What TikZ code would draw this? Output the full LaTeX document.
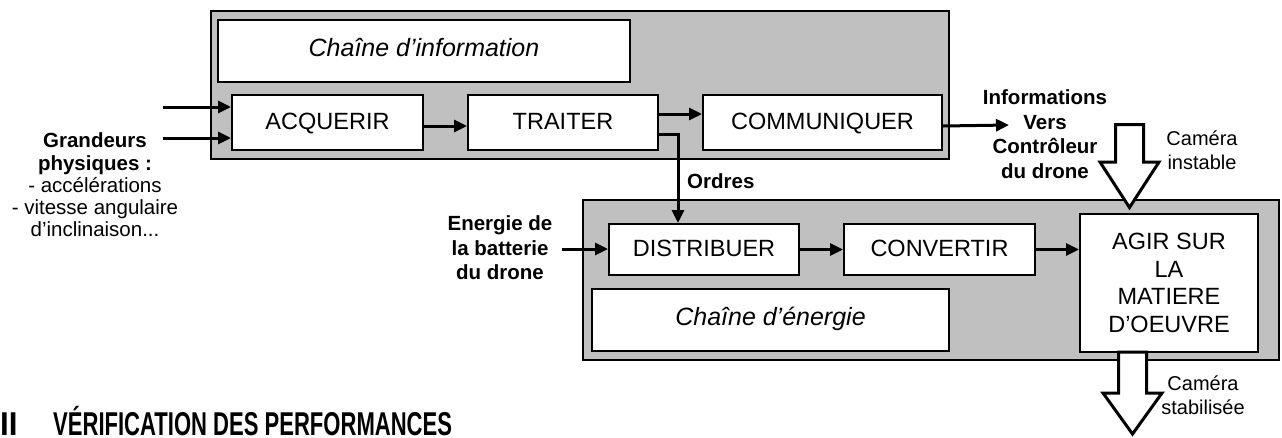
\documentclass[tikz,border=0pt]{standalone}
\usepackage{fontspec}
\setmainfont{Liberation Sans}
\usetikzlibrary{arrows.meta}
\definecolor{chaingray}{HTML}{C0C0C0}
\tikzset{
  chain/.style={draw=black, line width=2pt, fill=chaingray, anchor=north west, inner sep=0pt},
  fnbox/.style={draw=black, line width=2pt, fill=white, anchor=north west, inner sep=0pt,
    font=\fontsize{23.5}{27.7}\selectfont, align=center},
  onebox/.style={fnbox, text height=16pt, text depth=2pt},
  titlebox/.style={fnbox, font=\itshape\fontsize{25}{30}\selectfont, text height=17.9pt, text depth=6pt},
  flow/.style={line width=3pt, -{Triangle[length=13pt,width=12pt]}},
  lbl/.style={font=\bfseries\fontsize{20.5}{24.5}\selectfont, align=center, inner sep=0pt},
  note/.style={font=\fontsize{20}{24}\selectfont, align=center, inner sep=0pt},
  bigarrow/.style={draw=black, line width=3pt, fill=white, line join=miter},
  heading/.style={anchor=base west, inner sep=0pt, font=\bfseries\fontsize{33}{38}\selectfont}
}
\begin{document}
\begin{tikzpicture}[x=1pt, y=-1pt]
\useasboundingbox (0,0) rectangle (1282,437);
\clip (0,0) rectangle (1282,437);

% information chain
\node[chain, minimum width=738pt, minimum height=148pt] (info) at (210,10) {};
\node[titlebox, minimum width=412pt, minimum height=62pt] (infotitle) at (217,19) {Chaîne d’information};
\node[onebox, minimum width=191pt, minimum height=55pt] (acq) at (231,94) {ACQUERIR};
\node[onebox, minimum width=190pt, minimum height=55pt] (tra) at (467,94) {TRAITER};
\node[onebox, minimum width=239pt, minimum height=55pt] (com) at (702,94) {COMMUNIQUER};

% energy chain
\node[chain, minimum width=696pt, minimum height=160pt] (energy) at (582,199) {};
\node[onebox, minimum width=190pt, minimum height=51pt] (dis) at (608,223) {DISTRIBUER};
\node[onebox, minimum width=191pt, minimum height=51pt] (con) at (843,223) {CONVERTIR};
\node[titlebox, minimum width=357pt, minimum height=62pt] (entitle) at (591,288) {Chaîne d’énergie};
\node[fnbox, minimum width=178pt, minimum height=138pt] (agir) at (1079,213) {AGIR SUR\\LA\\MATIERE\\D’OEUVRE};

% labels
\node[inner sep=0pt, align=center, font=\fontsize{20.5}{22.2}\selectfont] (grand) at (95,185)
  {\textbf{Grandeurs}\\\textbf{physiques :}\\- accélérations\\- vitesse angulaire\\d’inclinaison...};
\node[lbl] (infos) at (1045,134) {Informations\\Vers\\Contrôleur\\du drone};
\node[lbl] (batt) at (500,248) {Energie de\\la batterie\\du drone};
\node[lbl, anchor=west] (ordres) at (687,181) {Ordres};
\node[note] (instable) at (1202,150) {Caméra\\instable};
\node[note] (stable) at (1203,395) {Caméra\\stabilisée};

% section heading
\node[heading] (secnum) at (0,435) {\scalebox{0.95}[1]{II}};
\node[heading] (sectitle) at (53,435) {\scalebox{0.668}[1]{VÉRIFICATION DES PERFORMANCES}};

% flows
\coordinate (in1) at (163,107);
\coordinate (in2) at (163,138);
\coordinate (out1) at (1009,125);
\coordinate (ein) at (562,249);
\draw[flow] (in1) -- (acq.west |- in1);
\draw[flow] (in2) -- (acq.west |- in2);
\draw[flow] ([yshift=-3.5pt]acq.east) -- ([yshift=-3.5pt]tra.west);
\draw[flow] ([yshift=8.5pt]tra.east) -- ([yshift=8.5pt]com.west);
\draw[flow] ([yshift=-11.5pt]tra.east) -| ([xshift=-26pt]dis.north);
\draw[flow] ([yshift=-3.5pt]com.east) -- (out1);
\draw[flow] (ein) -- (dis.west |- ein);
\draw[flow] (dis.east) -- (con.west);
\draw[flow] (con.east) -- (agir.west |- con.east);

% hollow arrows for the camera
\draw[bigarrow] (1115.5,124.5) -- (1143.5,124.5) -- (1143.5,162) -- (1159,162)
  -- (1129.5,207.5) -- (1100,162) -- (1115.5,162) -- cycle;
\draw[bigarrow] (1118.5,352) -- (1146.5,352) -- (1146.5,393) -- (1162,393)
  -- (1132.5,434) -- (1103,393) -- (1118.5,393) -- cycle;
\end{tikzpicture}
\end{document}
